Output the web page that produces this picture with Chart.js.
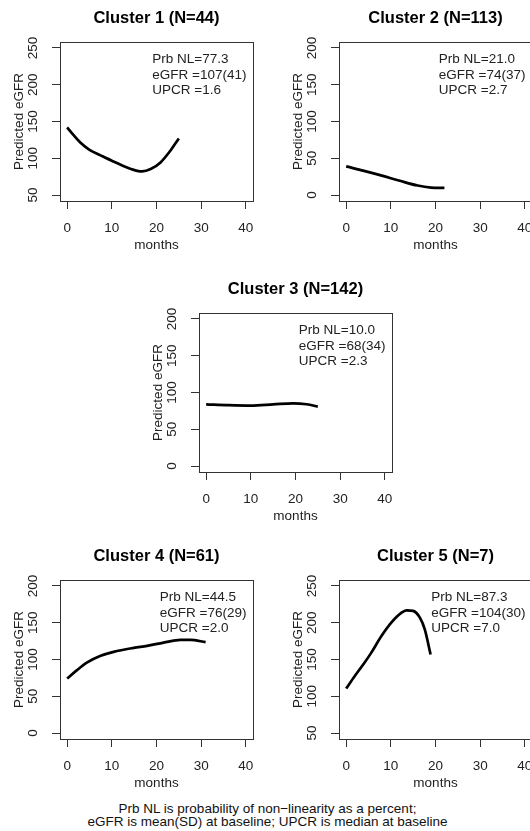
<!DOCTYPE html>
<html><head><meta charset="utf-8">
<script src="https://cdn.jsdelivr.net/npm/chart.js@4/dist/chart.umd.min.js"></script>
<style>
html,body{margin:0;padding:0;background:#fff;}
#page{position:relative;width:530px;height:831px;overflow:hidden;background:#fff;}
canvas{position:absolute;}
#foot{position:absolute;left:0;width:535px;top:802px;text-align:center;font:13.5px "Liberation Sans",Arial,sans-serif;line-height:13px;color:#111;}
</style></head>
<body><div id="page">
<canvas id="c1" width="313" height="261" style="left:0px;top:0px"></canvas>
<canvas id="c2" width="313" height="261" style="left:279px;top:0px"></canvas>
<canvas id="c3" width="313" height="261" style="left:139px;top:271px"></canvas>
<canvas id="c4" width="313" height="261" style="left:0px;top:538px"></canvas>
<canvas id="c5" width="313" height="261" style="left:279px;top:538px"></canvas>
<div id="foot">Prb NL is probability of non−linearity as a percent;<br>eGFR is mean(SD) at baseline; UPCR is median at baseline</div>
</div>
<script>
// ---- data ----
const xTicks = [0, 10, 20, 30, 40];
const yTicksHigh = [50, 100, 150, 200, 250];
const yTicksLow = [0, 50, 100, 150, 200];

const clusterNames = ['Cluster 1', 'Cluster 2', 'Cluster 3', 'Cluster 4', 'Cluster 5'];
const clusterN = [44, 113, 142, 61, 7];
const prbNL = ['77.3', '21.0', '10.0', '44.5', '87.3'];
const eGFRbase = ['107(41)', '74(37)', '68(34)', '76(29)', '104(30)'];
const upcrBase = ['1.6', '2.7', '2.3', '2.0', '7.0'];

const months1 = [0, 1.5, 3, 5, 7.5, 10, 13.4, 15.7, 16.8, 18.7, 20.9, 23.1, 25];
const egfr1 = [142, 131, 121, 111.5, 104, 96.7, 87.6, 83, 82.2, 85.4, 94.4, 110.3, 127];
const months2 = [0, 4, 8, 12, 16, 19, 22];
const egfr2 = [39, 33, 26.5, 19.5, 13, 10.3, 9.8];
const months3 = [0, 5, 10, 15, 19.5, 22.5, 25];
const egfr3 = [84, 82.8, 82.2, 83.8, 85.3, 84, 80.8];
const months4 = [0, 2.2, 4.5, 7.5, 10.4, 14.9, 17.9, 21.6, 25.4, 27.6, 31];
const egfr4 = [74.2, 85.5, 96, 105, 110.4, 115.8, 118.6, 123, 126.7, 126.7, 123.5];
const months5 = [0, 1.9, 4.1, 5.6, 7.9, 10.1, 12.4, 13.5, 15, 16.5, 17.6, 18.9];
const egfr5 = [110.5, 127.3, 145.5, 159, 181.8, 200, 213.6, 216.8, 216, 206.8, 190.9, 156.8];

const seriesX = [months1, months2, months3, months4, months5];
const seriesY = [egfr1, egfr2, egfr3, egfr4, egfr5];
const yTickSets = [yTicksHigh, yTicksLow, yTicksLow, yTicksLow, yTicksHigh];

// ---- drawing ----
const FONT = '"Liberation Sans", Arial, Helvetica, sans-serif';
const INK = '#222';

function extRange(ticks) {
  const lo = ticks[0], hi = ticks[ticks.length - 1], d = (hi - lo) * 0.04;
  return [lo - d, hi + d];
}

const decor = {
  id: 'decor',
  afterDraw(chart, args, opts) {
    const ctx = chart.ctx, a = chart.chartArea;
    const xs = chart.scales.x, ys = chart.scales.y;
    ctx.save();
    // box
    ctx.strokeStyle = '#333'; ctx.lineWidth = 1;
    ctx.strokeRect(Math.round(a.left) + 0.5, Math.round(a.top) + 0.5, Math.round(a.right - a.left), Math.round(a.bottom - a.top));
    // title
    ctx.fillStyle = '#000';
    ctx.font = 'bold 16.5px ' + FONT;
    ctx.textAlign = 'center'; ctx.textBaseline = 'middle';
    ctx.fillText(opts.title, (a.left + a.right) / 2, a.top - 23.5);
    // x tick labels
    ctx.fillStyle = INK;
    ctx.font = '13.5px ' + FONT;
    xTicks.forEach(v => ctx.fillText(String(v), xs.getPixelForValue(v), a.bottom + 27.5));
    ctx.fillText('months', (a.left + a.right) / 2, a.bottom + 44);
    // y tick labels (rotated)
    opts.yTicks.forEach(v => {
      ctx.save();
      ctx.translate(a.left - 27, ys.getPixelForValue(v));
      ctx.rotate(-Math.PI / 2);
      ctx.fillText(String(v), 0, 0);
      ctx.restore();
    });
    ctx.save();
    ctx.translate(a.left - 41, (a.top + a.bottom) / 2);
    ctx.rotate(-Math.PI / 2);
    ctx.fillText('Predicted eGFR', 0, 0);
    ctx.restore();
    // annotation (top-right legend style)
    const lines = opts.notes;
    ctx.textAlign = 'left';
    const w = Math.max(...lines.map(s => ctx.measureText(s).width));
    const lx = a.right - 6.5 - w;
    lines.forEach((s, i) => ctx.fillText(s, lx, a.top + 17.5 + i * 15.5));
    ctx.restore();
  }
};

for (let i = 0; i < 5; i++) {
  const yt = yTickSets[i];
  const [ymin, ymax] = extRange(yt);
  const [xmin, xmax] = extRange(xTicks);
  new Chart(document.getElementById('c' + (i + 1)), {
    type: 'line',
    data: {
      datasets: [{
        data: seriesX[i].map((m, k) => ({ x: m, y: seriesY[i][k] })),
        borderColor: '#000',
        borderWidth: 2.7,
        pointRadius: 0,
        fill: false,
        cubicInterpolationMode: 'monotone'
      }]
    },
    options: {
      responsive: false,
      animation: false,
      events: [],
      layout: { padding: { top: 42, right: 60, left: 0, bottom: 0 } },
      plugins: {
        legend: { display: false },
        tooltip: { enabled: false },
        decor: {
          title: clusterNames[i] + ' (N=' + clusterN[i] + ')',
          yTicks: yt,
          notes: ['Prb NL=' + prbNL[i], 'eGFR =' + eGFRbase[i], 'UPCR =' + upcrBase[i]]
        }
      },
      scales: {
        x: {
          type: 'linear', min: xmin, max: xmax,
          afterBuildTicks: s => { s.ticks = xTicks.map(v => ({ value: v })); },
          afterFit: s => { s.height = 60; },
          ticks: { display: false },
          border: { display: false },
          grid: { drawOnChartArea: false, drawTicks: true, tickLength: 8, color: '#333', lineWidth: 1 }
        },
        y: {
          type: 'linear', min: ymin, max: ymax,
          afterBuildTicks: s => { s.ticks = yt.map(v => ({ value: v })); },
          afterFit: s => { s.width = 60; },
          ticks: { display: false },
          border: { display: false },
          grid: { drawOnChartArea: false, drawTicks: true, tickLength: 8, color: '#333', lineWidth: 1 }
        }
      }
    },
    plugins: [decor]
  });
}
</script>
</body></html>
